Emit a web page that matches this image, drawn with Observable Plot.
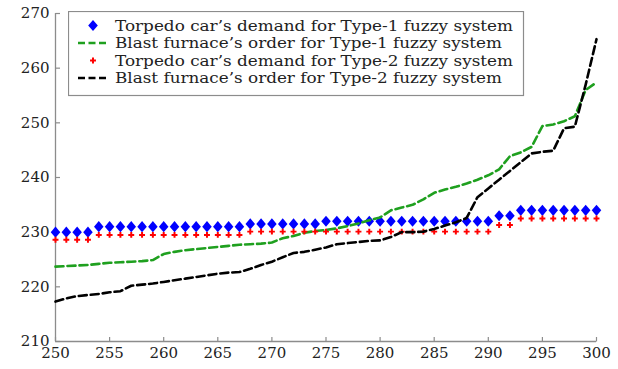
<!DOCTYPE html>
<html>
<head>
<meta charset="utf-8">
<script src="https://cdn.jsdelivr.net/npm/d3@7"></script>
<script src="https://cdn.jsdelivr.net/npm/@observablehq/plot@0.6"></script>
<style>
  html, body { margin: 0; padding: 0; background: #fff; }
  #chart { position: relative; width: 618px; height: 369px; }
  #legend { position: absolute; left: 68px; top: 11px; }
</style>
</head>
<body>
<div id="chart"></div>
<script>
// Time index (horizontal axis)
const steps = [250, 251, 252, 253, 254, 255, 256, 257, 258, 259,
               260, 261, 262, 263, 264, 265, 266, 267, 268, 269,
               270, 271, 272, 273, 274, 275, 276, 277, 278, 279,
               280, 281, 282, 283, 284, 285, 286, 287, 288, 289,
               290, 291, 292, 293, 294, 295, 296, 297, 298, 299, 300];

// Torpedo car's demand, Type-1 fuzzy system
const demandT1 = [230, 230, 230, 230,
                  231, 231, 231, 231, 231, 231, 231, 231, 231, 231, 231, 231, 231, 231,
                  231.5, 231.5, 231.5, 231.5, 231.5, 231.5, 231.5,
                  232, 232, 232, 232, 232, 232, 232, 232, 232, 232, 232, 232, 232, 232, 232, 232,
                  233, 233,
                  234, 234, 234, 234, 234, 234, 234, 234];

// Blast furnace's order, Type-1 fuzzy system
const orderT1 = [223.7, 223.8, 223.9, 224.0, 224.2, 224.4, 224.5, 224.6, 224.7, 224.9,
                 226.0, 226.4, 226.7, 226.9, 227.1, 227.3, 227.5, 227.7, 227.8, 227.9,
                 228.1, 228.9, 229.3, 229.9, 230.2, 230.4, 230.7, 231.1, 231.6, 232.2,
                 232.7, 234.0, 234.5, 235.0, 236.0, 237.2, 237.8, 238.3, 238.9, 239.6,
                 240.4, 241.5, 243.9, 244.6, 245.6, 249.4, 249.7, 250.3, 251.2, 256.0, 257.4];

// Torpedo car's demand, Type-2 fuzzy system
const demandT2 = [228.6, 228.6, 228.6, 228.6,
                  229.5, 229.5, 229.5, 229.5, 229.5, 229.5, 229.5, 229.5, 229.5, 229.5, 229.5, 229.5, 229.5, 229.5,
                  230.1, 230.1, 230.1, 230.1, 230.1, 230.1, 230.1, 230.1, 230.1, 230.1, 230.1, 230.1,
                  230.1, 230.1, 230.1, 230.1, 230.1, 230.1, 230.1, 230.1, 230.1, 230.1, 230.1,
                  231.3, 231.3,
                  232.5, 232.5, 232.5, 232.5, 232.5, 232.5, 232.5, 232.5];

// Blast furnace's order, Type-2 fuzzy system
const orderT2 = [217.3, 217.9, 218.3, 218.5, 218.7, 219.0, 219.2, 220.2, 220.4, 220.6,
                 220.9, 221.2, 221.5, 221.8, 222.1, 222.4, 222.6, 222.7, 223.3, 224.0,
                 224.6, 225.4, 226.2, 226.4, 226.8, 227.2, 227.8, 228.0, 228.2, 228.4,
                 228.5, 229.1, 230.0, 230.0, 230.1, 230.6, 231.2, 231.8, 232.6, 236.4,
                 238.0, 239.6, 241.2, 242.8, 244.4, 244.7, 244.9, 249.0, 249.3, 257.0, 265.3];

const xTicks = [250, 255, 260, 265, 270, 275, 280, 285, 290, 295, 300];
const yTicks = [210, 220, 230, 240, 250, 260, 270];

const legendLabels = [
  "Torpedo car\u2019s demand for Type-1 fuzzy system",
  "Blast furnace\u2019s order for Type-1 fuzzy system",
  "Torpedo car\u2019s demand for Type-2 fuzzy system",
  "Blast furnace\u2019s order for Type-2 fuzzy system"
];

const BLUE = "#0000ff", GREEN = "#1fa01f", RED = "#ff0000", BLACK = "#000000";
const AXIS = "#8c8c8c";
const DASH = "8,4";
const SERIF = "'DejaVu Serif', serif";

const rows = steps.map((t, i) => ({t, demandT1: demandT1[i], orderT1: orderT1[i], demandT2: demandT2[i], orderT2: orderT2[i]}));

// filled diamond, a little narrower than tall
const diamond = {
  draw(ctx, size) {
    const r = Math.sqrt(size / Math.PI);
    ctx.moveTo(0, -r); ctx.lineTo(0.85 * r, 0); ctx.lineTo(0, r); ctx.lineTo(-0.85 * r, 0); ctx.closePath();
  }
};
// inward tick marks
const tickUp = { draw(ctx) { ctx.moveTo(0, 0); ctx.lineTo(0, -4.5); } };
const tickRight = { draw(ctx) { ctx.moveTo(0, 0); ctx.lineTo(4.5, 0); } };

const plot = Plot.plot({
  width: 618,
  height: 369,
  marginLeft: 55,
  marginRight: 22,
  marginTop: 13,
  marginBottom: 28,
  style: {fontFamily: SERIF, fontSize: "15px", color: "#222", background: "#fff", overflow: "visible"},
  x: {domain: [steps[0], steps[steps.length - 1]], label: null},
  y: {domain: [yTicks[0], yTicks[yTicks.length - 1]], label: null},
  marks: [
    Plot.axisX(xTicks, {tickSize: 0, tickPadding: 6, fontSize: 15, fill: "#222", label: null}),
    Plot.axisY(yTicks, {tickSize: 0, tickPadding: 6, fontSize: 15, fill: "#222", label: null}),
    Plot.ruleX([steps[0]], {stroke: AXIS, strokeWidth: 1.3}),
    Plot.ruleY([yTicks[0]], {stroke: AXIS, strokeWidth: 1.3}),
    Plot.dot(xTicks, {x: d => d, frameAnchor: "bottom", symbol: tickUp, fill: "none", stroke: AXIS, strokeWidth: 1.2}),
    Plot.dot(yTicks, {y: d => d, frameAnchor: "left", symbol: tickRight, fill: "none", stroke: AXIS, strokeWidth: 1.2}),
    Plot.dot(rows, {x: "t", y: "demandT1", symbol: diamond, r: 5.6, fill: BLUE, stroke: "none"}),
    Plot.line(rows, {x: "t", y: "orderT1", stroke: GREEN, strokeWidth: 2.6, strokeDasharray: DASH}),
    Plot.dot(rows, {x: "t", y: "demandT2", symbol: "cross", r: 2.5, fill: RED, stroke: "none"}),
    Plot.line(rows, {x: "t", y: "orderT2", stroke: BLACK, strokeWidth: 2.6, strokeDasharray: DASH})
  ]
});

const chart = document.getElementById("chart");
chart.appendChild(plot);

// Legend box drawn over the upper-left part of the plot
const lg = d3.select(chart).append("svg")
  .attr("id", "legend")
  .attr("width", 457)
  .attr("height", 86);
lg.append("rect").attr("x", 0.5).attr("y", 0.5).attr("width", 455).attr("height", 84)
  .attr("fill", "#fff").attr("stroke", AXIS).attr("stroke-width", 1.2);

const rowY = [14.5, 32, 49.5, 67];
const textWidths = [398, 387, 398, 387];
const sampleX = 25;

// row 1: blue diamond
lg.append("path").attr("d", "M0,-5.6L4.8,0L0,5.6L-4.8,0Z").attr("fill", BLUE)
  .attr("transform", `translate(${sampleX},${rowY[0]})`);
// row 2: green dashes
lg.append("line").attr("x1", 10).attr("x2", 38).attr("y1", rowY[1]).attr("y2", rowY[1])
  .attr("stroke", GREEN).attr("stroke-width", 2.6).attr("stroke-dasharray", "7,3.5");
// row 3: red cross
lg.append("path").attr("d", d3.symbol(d3.symbolCross, 2.5 * 2.5 * Math.PI)()).attr("fill", RED)
  .attr("transform", `translate(${sampleX},${rowY[2]})`);
// row 4: black dashes
lg.append("line").attr("x1", 10).attr("x2", 38).attr("y1", rowY[3]).attr("y2", rowY[3])
  .attr("stroke", BLACK).attr("stroke-width", 2.6).attr("stroke-dasharray", "7,3.5");

legendLabels.forEach((label, i) => {
  lg.append("text")
    .attr("x", 47)
    .attr("y", rowY[i])
    .attr("dy", "0.35em")
    .attr("font-family", SERIF)
    .attr("font-size", 14.5)
    .attr("fill", "#222")
    .attr("textLength", textWidths[i])
    .attr("lengthAdjust", "spacingAndGlyphs")
    .text(label);
});
</script>
</body>
</html>
